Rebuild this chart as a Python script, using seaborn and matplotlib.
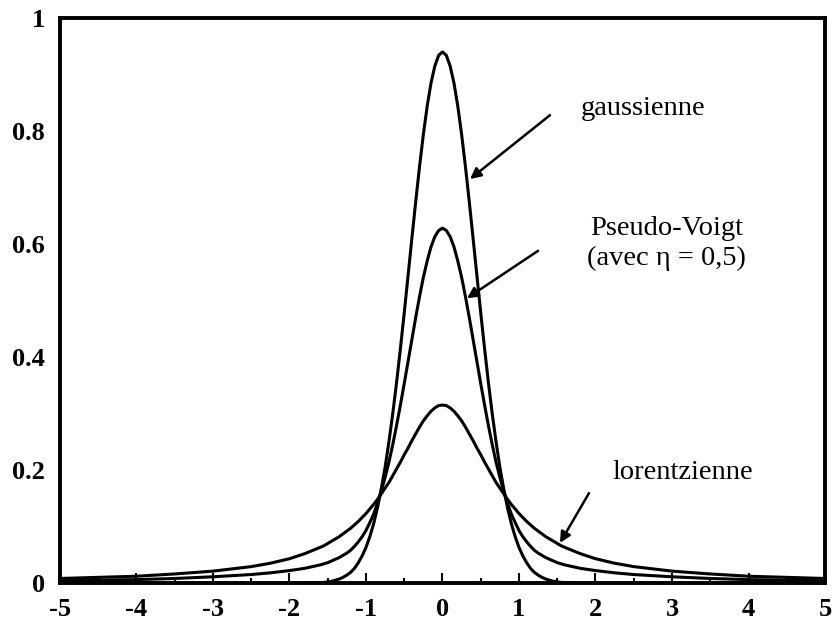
import matplotlib
matplotlib.use("Agg")
import matplotlib.pyplot as plt
import seaborn as sns
import pandas as pd

# Abscissa shared by the three profiles
x = [-5.0, -4.5, -4.0, -3.5, -3.0, -2.5, -2.25, -2.0, -1.8, -1.6,
     -1.55, -1.5, -1.45, -1.4, -1.35, -1.3, -1.25, -1.2, -1.15, -1.1,
     -1.05, -1.0, -0.95, -0.9, -0.85, -0.8, -0.75, -0.7, -0.65, -0.6,
     -0.55, -0.5, -0.45, -0.4, -0.35, -0.3, -0.25, -0.2, -0.15, -0.1,
     -0.05, 0.0, 0.05, 0.1, 0.15, 0.2, 0.25, 0.3, 0.35, 0.4,
     0.45, 0.5, 0.55, 0.6, 0.65, 0.7, 0.75, 0.8, 0.85, 0.9,
     0.95, 1.0, 1.05, 1.1, 1.15, 1.2, 1.25, 1.3, 1.35, 1.4,
     1.45, 1.5, 1.55, 1.6, 1.8, 2.0, 2.25, 2.5, 3.0, 3.5,
     4.0, 4.5, 5.0]

gaussienne = [0.0, 0.0, 0.0, 0.0, 0.0, 0.0, 0.0, 0.0, 0.0, 0.001,
              0.001, 0.002, 0.003, 0.005, 0.007, 0.010, 0.014, 0.019, 0.026, 0.036,
              0.048, 0.063, 0.082, 0.105, 0.133, 0.167, 0.205, 0.250, 0.300, 0.355,
              0.415, 0.478, 0.544, 0.610, 0.675, 0.737, 0.794, 0.844, 0.885, 0.915,
              0.934, 0.940, 0.934, 0.915, 0.885, 0.844, 0.794, 0.737, 0.675, 0.610,
              0.544, 0.478, 0.415, 0.355, 0.300, 0.250, 0.205, 0.167, 0.133, 0.105,
              0.082, 0.063, 0.048, 0.036, 0.026, 0.019, 0.014, 0.010, 0.007, 0.005,
              0.003, 0.002, 0.001, 0.001, 0.0, 0.0, 0.0, 0.0, 0.0, 0.0,
              0.0, 0.0, 0.0]

lorentzienne = [0.008, 0.010, 0.012, 0.016, 0.021, 0.029, 0.035, 0.043, 0.052, 0.063,
                0.066, 0.070, 0.074, 0.078, 0.082, 0.087, 0.092, 0.097, 0.103, 0.109,
                0.116, 0.123, 0.131, 0.139, 0.148, 0.158, 0.168, 0.178, 0.190, 0.202,
                0.214, 0.227, 0.239, 0.252, 0.264, 0.276, 0.287, 0.296, 0.304, 0.310,
                0.314, 0.315, 0.314, 0.310, 0.304, 0.296, 0.287, 0.276, 0.264, 0.252,
                0.239, 0.227, 0.214, 0.202, 0.190, 0.178, 0.168, 0.158, 0.148, 0.139,
                0.131, 0.123, 0.116, 0.109, 0.103, 0.097, 0.092, 0.087, 0.082, 0.078,
                0.074, 0.070, 0.066, 0.063, 0.052, 0.043, 0.035, 0.029, 0.021, 0.016,
                0.012, 0.010, 0.008]

pseudo_voigt = [0.004, 0.005, 0.006, 0.008, 0.011, 0.015, 0.018, 0.022, 0.026, 0.032,
                0.034, 0.036, 0.039, 0.042, 0.045, 0.049, 0.053, 0.058, 0.065, 0.073,
                0.082, 0.093, 0.107, 0.122, 0.141, 0.163, 0.187, 0.214, 0.245, 0.279,
                0.315, 0.353, 0.392, 0.431, 0.470, 0.507, 0.541, 0.570, 0.595, 0.613,
                0.624, 0.628, 0.624, 0.613, 0.595, 0.570, 0.541, 0.507, 0.470, 0.431,
                0.392, 0.353, 0.315, 0.279, 0.245, 0.214, 0.187, 0.163, 0.141, 0.122,
                0.107, 0.093, 0.082, 0.073, 0.065, 0.058, 0.053, 0.049, 0.045, 0.042,
                0.039, 0.036, 0.034, 0.032, 0.026, 0.022, 0.018, 0.015, 0.011, 0.008,
                0.006, 0.005, 0.004]

x_ticks = [-5, -4, -3, -2, -1, 0, 1, 2, 3, 4, 5]
x_tick_labels = ["-5", "-4", "-3", "-2", "-1", "0", "1", "2", "3", "4", "5"]
x_minor = [-4.5, -3.5, -2.5, -1.5, -0.5, 0.5, 1.5, 2.5, 3.5, 4.5]
y_ticks = [0, 0.2, 0.4, 0.6, 0.8, 1]
y_tick_labels = ["0", "0.2", "0.4", "0.6", "0.8", "1"]

df = pd.DataFrame({"x": x, "gauss": gaussienne,
                   "lorentz": lorentzienne, "pv": pseudo_voigt})

sns.set_style("white")
plt.rcParams["font.family"] = ["Liberation Serif", "DejaVu Serif"]

fig = plt.figure(figsize=(8.33, 6.23), dpi=100)
ax = fig.add_axes([0.072, 0.0642, 0.9184, 0.9069])

for col in ["gauss", "pv", "lorentz"]:
    sns.lineplot(data=df, x="x", y=col, ax=ax, color="black", linewidth=2.2)

ax.set_xlim(-5, 5)
ax.set_ylim(0, 1)
ax.set_xlabel("")
ax.set_ylabel("")

ax.set_xticks(x_ticks)
ax.set_xticklabels(x_tick_labels, fontsize=19, fontweight="bold")
ax.set_xticks(x_minor, minor=True)
ax.set_yticks(y_ticks)
ax.set_yticklabels(y_tick_labels, fontsize=19, fontweight="bold")
ax.tick_params(axis="x", which="major", bottom=True, direction="in", length=7,
               width=1.5, pad=11, color="black", labelcolor="black")
ax.tick_params(axis="x", which="minor", bottom=True, direction="in", length=3.5,
               width=1.5, color="black")
ax.tick_params(axis="y", which="both", left=False, length=0, pad=11,
               labelcolor="black")

for side in ["left", "right", "top", "bottom"]:
    ax.spines[side].set_visible(True)
    ax.spines[side].set_color("black")
    ax.spines[side].set_linewidth(2.8)

arrow = dict(arrowstyle="-|>", color="black", lw=1.8, mutation_scale=16,
             shrinkA=0, shrinkB=0)
text_kw = dict(fontsize=20.5, color="black", ha="center", va="center")

ax.text(2.62, 0.84, "gaussienne", **text_kw)
ax.annotate("", xy=(0.36, 0.715), xytext=(1.405, 0.828), arrowprops=arrow)

ax.text(2.93, 0.628, "Pseudo-Voigt", **text_kw)
ax.text(2.93, 0.575, "(avec η = 0,5)", **text_kw)
ax.annotate("", xy=(0.32, 0.504), xytext=(1.25, 0.588), arrowprops=arrow)

ax.text(3.14, 0.196, "lorentzienne", **text_kw)
ax.annotate("", xy=(1.536, 0.071), xytext=(1.915, 0.159), arrowprops=arrow)

fig.savefig("out.png", dpi=100, facecolor="white")
